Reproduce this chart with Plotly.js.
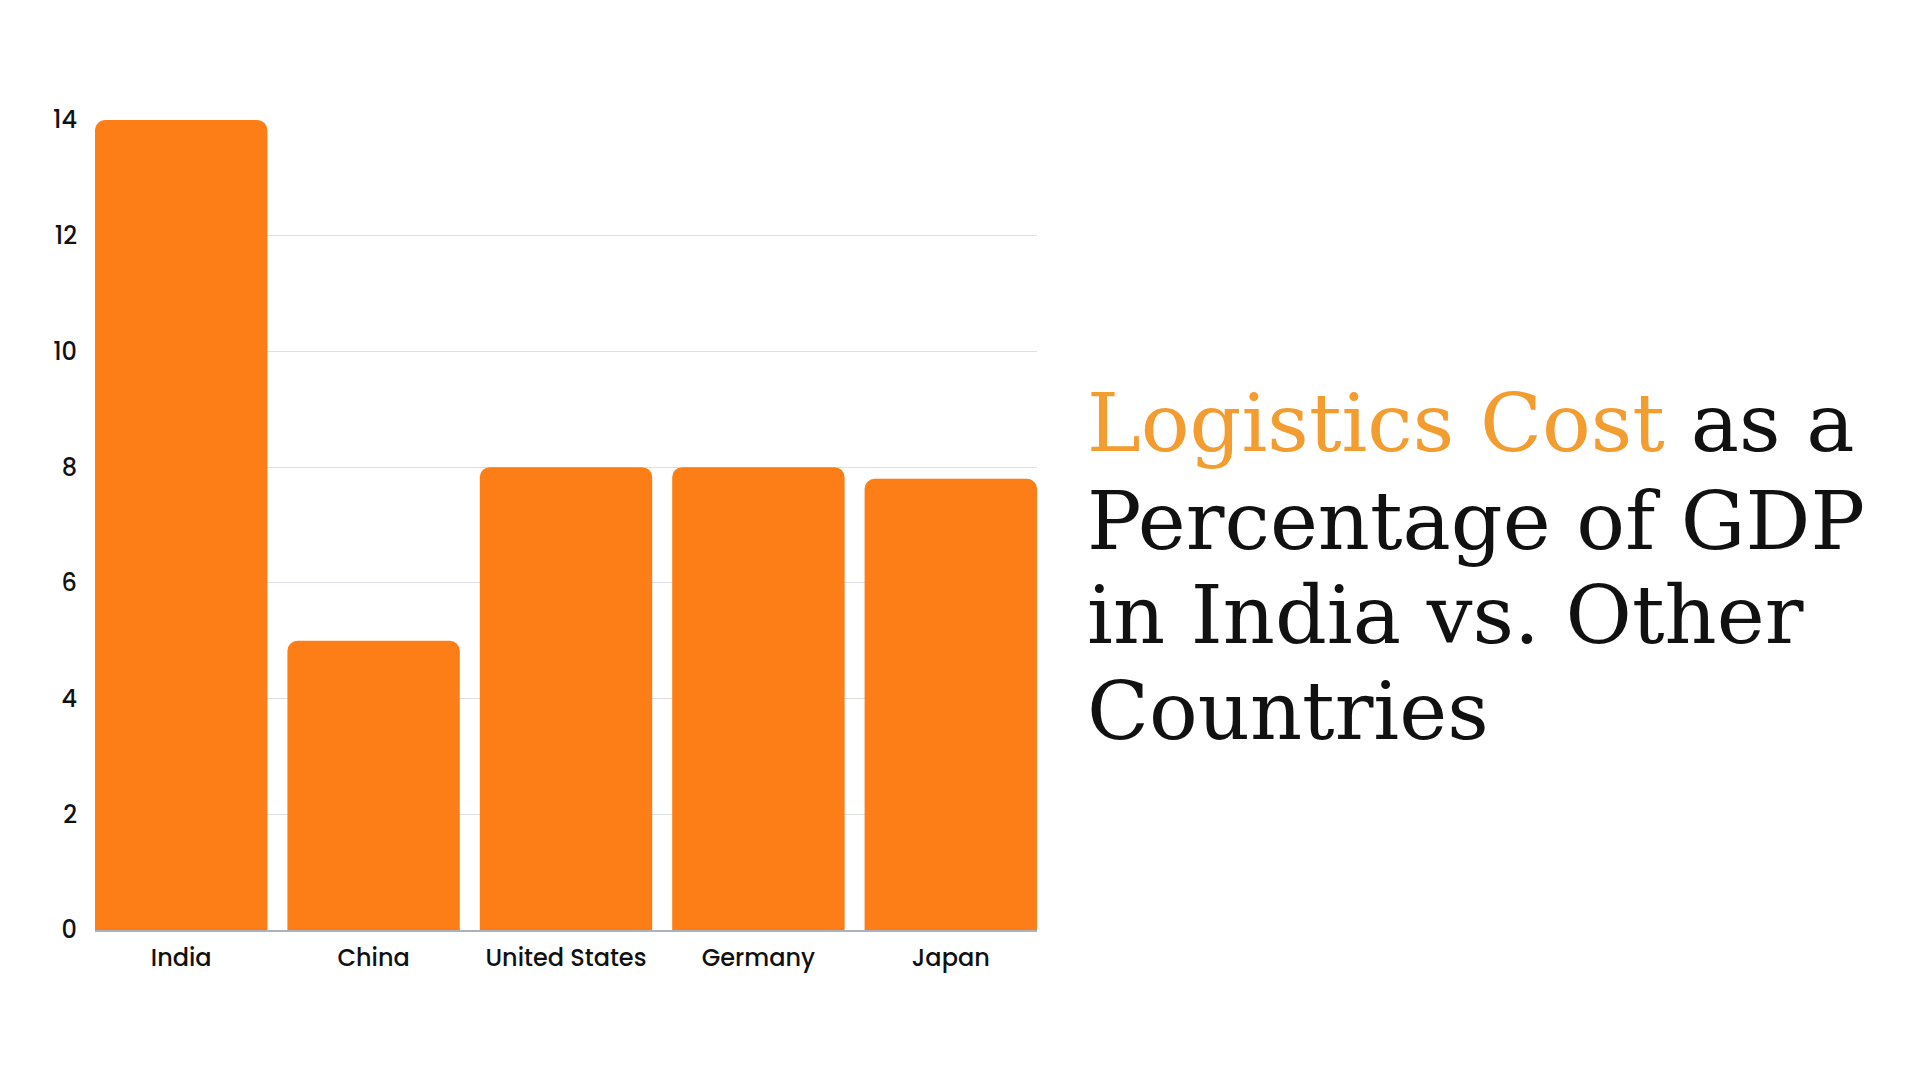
<!DOCTYPE html>
<html>
<head>
<meta charset="utf-8">
<script src="https://cdn.plot.ly/plotly-3.0.1.min.js"></script>
<style>html,body{margin:0;padding:0;background:#fff;}#chart{width:1920px;height:1080px;}</style>
</head>
<body>
<div id="chart"></div>
<script>
const countries = ["India", "China", "United States", "Germany", "Japan"];
const logisticsCostPct = [14, 5, 8, 8, 7.8];
const yTicks = [0, 2, 4, 6, 8, 10, 12, 14];
const titleLines = [
  '<span style="color:#F39C2F">Logistics Cost</span> as a',
  'Percentage of GDP',
  'in India vs. Other',
  'Countries'
];

const trace = {
  type: 'bar',
  x: countries,
  y: logisticsCostPct,
  marker: {color: '#FD7E17', cornerradius: 10},
  hoverinfo: 'x+y'
};

const titleY = [0.626, 0.505, 0.389, 0.270];
const annotations = titleLines.map((t, i) => ({
  text: t,
  xref: 'paper', yref: 'paper',
  x: 1.051, y: titleY[i],
  xanchor: 'left', yanchor: 'middle',
  showarrow: false,
  align: 'left',
  font: {family: 'DejaVu Serif, serif', size: 81, color: '#111111'}
}));

const layout = {
  width: 1920, height: 1080,
  margin: {l: 95, r: 883, t: 120, b: 150},
  paper_bgcolor: '#ffffff', plot_bgcolor: '#ffffff',
  bargap: 0.104,
  showlegend: false,
  font: {family: 'Poppins, Inter, Open Sans, sans-serif', color: '#1a1a1a'},
  xaxis: {
    type: 'category',
    range: [-0.448, 4.448],
    showgrid: false,
    showline: true, linecolor: '#a9b3bf', linewidth: 1.5,
    ticks: '',
    ticklabelstandoff: 6,
    tickfont: {size: 24, color: '#111111', weight: 500},
    fixedrange: true
  },
  yaxis: {
    range: [0, 14],
    tickvals: yTicks,
    ticktext: yTicks.map(String),
    showgrid: true, gridcolor: '#dcdfe3', gridwidth: 1,
    zeroline: false,
    showline: false,
    ticks: '',
    ticklabelstandoff: 17,
    tickfont: {size: 24, color: '#111111', weight: 500},
    fixedrange: true
  },
  annotations: annotations
};

Plotly.newPlot('chart', [trace], layout, {displayModeBar: false, staticPlot: true});
</script>
</body>
</html>
